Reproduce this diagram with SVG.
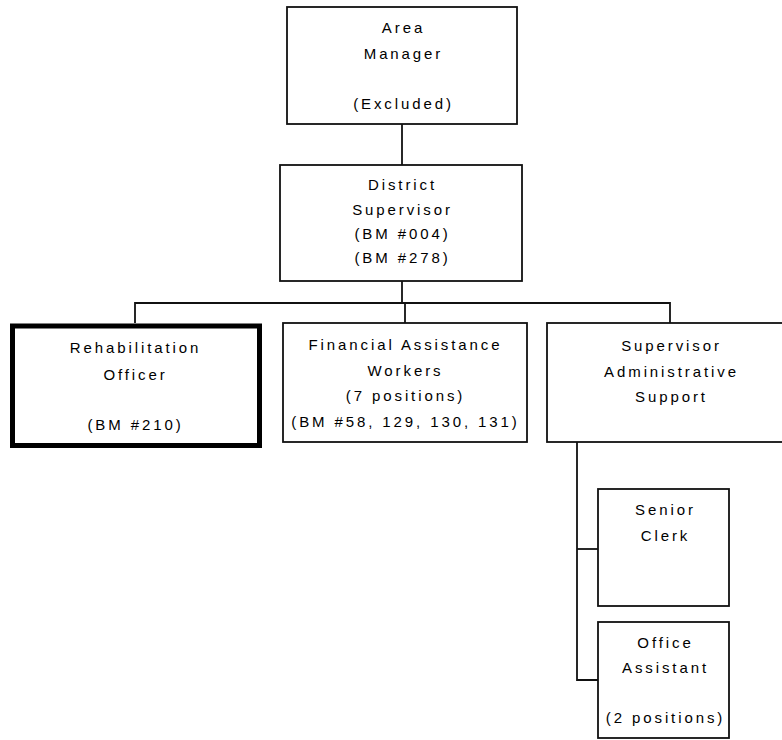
<svg xmlns="http://www.w3.org/2000/svg" width="782" height="740" viewBox="0 0 782 740">
<style>
rect.box{fill:#fff;stroke:#111;stroke-width:1.8}
rect.thick{fill:#fff;stroke:#000;stroke-width:5}
.c line,.c path{stroke:#111;stroke-width:1.8;fill:none}
text{font-family:"Liberation Sans",Arial,sans-serif;font-size:15px;fill:#000;text-anchor:middle;letter-spacing:2.9px}
</style>
<rect width="782" height="740" fill="#fff"/>
<g class="c" id="connectors">
<line x1="402" y1="124" x2="402" y2="165"/>
<line x1="402" y1="281" x2="402" y2="303"/>
<path d="M135,323 V303 H670 V323"/>
<line x1="405" y1="303" x2="405" y2="323"/>
<path d="M577,442 V680 H598"/>
<line x1="577" y1="549" x2="598" y2="549"/>
</g>
<g id="area-manager">
<rect class="box" x="287" y="7" width="230" height="117"/>
<text x="403.5" y="33">Area</text>
<text x="403.5" y="59">Manager</text>
<text x="403.5" y="109">(Excluded)</text>
</g>
<g id="district-supervisor">
<rect class="box" x="280" y="165" width="242" height="116"/>
<text x="402.5" y="190">District</text>
<text x="402.5" y="214.5">Supervisor</text>
<text x="402.5" y="239">(BM #004)</text>
<text x="402.5" y="263">(BM #278)</text>
</g>
<g id="rehabilitation-officer">
<rect class="thick" x="12.5" y="326" width="247" height="119.5"/>
<text x="135.5" y="353">Rehabilitation</text>
<text x="135.5" y="380">Officer</text>
<text x="135.5" y="430">(BM #210)</text>
</g>
<g id="financial-assistance-workers">
<rect class="box" x="283" y="323" width="244" height="119"/>
<text x="405.5" y="350">Financial Assistance</text>
<text x="405.5" y="375.5">Workers</text>
<text x="405.5" y="401">(7 positions)</text>
<text x="405.5" y="426.5">(BM #58, 129, 130, 131)</text>
</g>
<g id="supervisor-administrative-support">
<rect class="box" x="547" y="323" width="240" height="119"/>
<text x="671.5" y="351">Supervisor</text>
<text x="671.5" y="376.5">Administrative</text>
<text x="671.5" y="402">Support</text>
</g>
<g id="senior-clerk">
<rect class="box" x="598" y="489" width="131" height="117"/>
<text x="665.5" y="515">Senior</text>
<text x="665.5" y="541">Clerk</text>
</g>
<g id="office-assistant">
<rect class="box" x="598" y="622" width="131" height="116"/>
<text x="665.5" y="648">Office</text>
<text x="665.5" y="673">Assistant</text>
<text x="665.5" y="723">(2 positions)</text>
</g>
</svg>
